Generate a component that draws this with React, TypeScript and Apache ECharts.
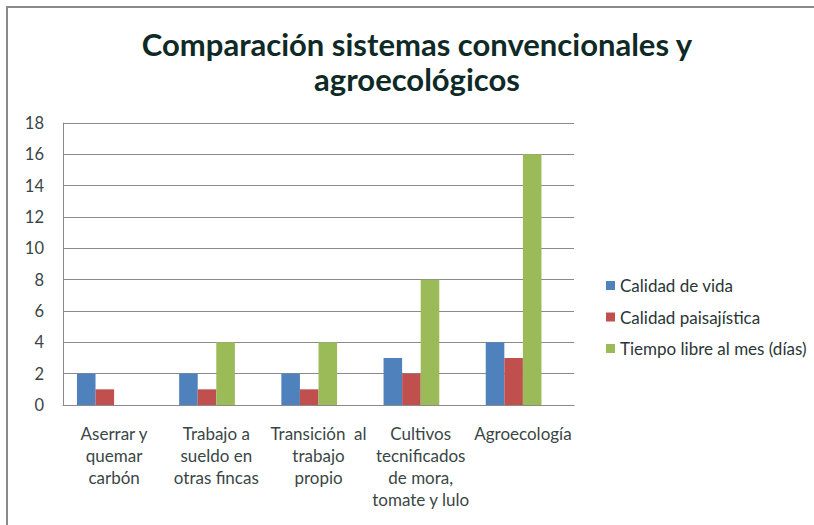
import React, { useEffect, useRef } from "react";
import * as echarts from "echarts";

const categories = [
  "Aserrar y\nquemar\ncarbón",
  "Trabajo a\nsueldo en\notras fincas",
  "Transición  al\ntrabajo\npropio",
  "Cultivos\ntecnificados\nde mora,\ntomate y lulo",
  "Agroecología",
];
const seriesNames = ["Calidad de vida", "Calidad paisajística", "Tiempo libre al mes (días)"];
const calidadVida = [2, 2, 2, 3, 4];
const calidadPaisajistica = [1, 1, 1, 2, 3];
const tiempoLibre = [0, 4, 4, 8, 16];
const yTicks = { min: 0, max: 18, interval: 2 };
const titleLines = ["Comparación sistemas convencionales y", "agroecológicos"];

const colors = ["#4F81BD", "#C0504D", "#9BBB59"];
const FONT = "Lato, 'Noto Sans', sans-serif";

export default function App() {
  const ref = useRef<HTMLDivElement>(null);
  useEffect(() => {
    if (!ref.current) return;
    const chart = echarts.init(ref.current, null, { renderer: "svg" });
    const values = [calidadVida, calidadPaisajistica, tiempoLibre];
    chart.setOption({
      animation: false,
      backgroundColor: "#ffffff",
      textStyle: { fontFamily: FONT },
      graphic: [
        {
          type: "rect",
          shape: { x: 7, y: 7, width: 900, height: 600 },
          style: { fill: "none", stroke: "#8a8a8a", lineWidth: 2 },
          silent: true,
        },
        {
          type: "text",
          x: 417,
          y: 44,
          style: {
            text: titleLines[0],
            font: `bold 31px ${FONT}`,
            fill: "#0f2a26",
            align: "center",
            verticalAlign: "middle",
          },
        },
        {
          type: "text",
          x: 417,
          y: 79,
          style: {
            text: titleLines[1],
            font: `bold 31px ${FONT}`,
            fill: "#0f2a26",
            align: "center",
            verticalAlign: "middle",
          },
        },
      ],
      legend: {
        data: seriesNames,
        orient: "vertical",
        left: 601,
        top: 272,
        itemWidth: 9,
        itemHeight: 9,
        itemGap: 14.5,
        icon: "rect",
        textStyle: { fontFamily: FONT, fontSize: 17, color: "#2a3636" },
      },
      grid: { left: 63, right: 240, top: 123, bottom: 120, containLabel: false },
      xAxis: {
        type: "category",
        data: categories,
        axisLine: { show: true, lineStyle: { color: "#8a8a8a", width: 1 } },
        axisTick: { show: false },
        axisLabel: {
          interval: 0,
          margin: 17,
          fontFamily: FONT,
          fontSize: 17,
          lineHeight: 22,
          color: "#3a4646",
          align: "center",
        },
      },
      yAxis: {
        type: "value",
        min: yTicks.min,
        max: yTicks.max,
        interval: yTicks.interval,
        axisLine: { show: true, lineStyle: { color: "#8a8a8a", width: 1 } },
        axisTick: { show: false },
        splitLine: { show: true, lineStyle: { color: "#8a8a8a", width: 1 } },
        axisLabel: { margin: 19, fontFamily: FONT, fontSize: 16.5, color: "#3a4646" },
      },
      series: [
        ...seriesNames.map((name, i) => ({
          name,
          type: "bar",
          data: values[i],
          itemStyle: { color: colors[i] },
          barGap: "0%",
          barCategoryGap: "27.3%",
        })),
        {
          name: "",
          type: "bar",
          data: [null, null, null, null, null],
          barGap: "0%",
          barCategoryGap: "27.3%",
        },
      ],
    });
    return () => chart.dispose();
  }, []);
  return (
    <div
      ref={ref}
      style={{ position: "fixed", left: 0, top: 0, width: 814, height: 525 }}
    />
  );
}
